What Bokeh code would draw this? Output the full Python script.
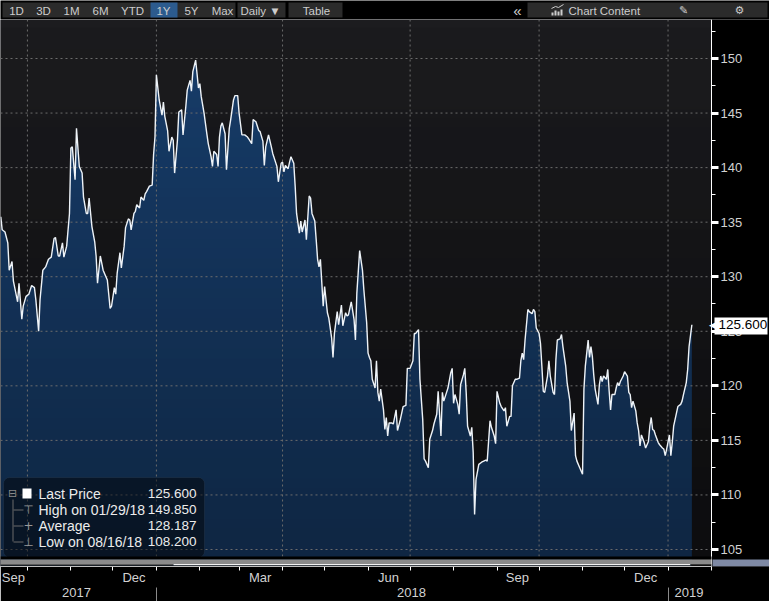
import numpy as np
import pandas as pd
from bokeh.plotting import figure
from bokeh.layouts import column
from bokeh.models import (Range1d, LinearAxis, FixedTicker, CustomJSTickFormatter,
                          BoxAnnotation, Label, ColumnDataSource)
from bokeh.core.properties import value
from bokeh.embed import file_html
from bokeh.resources import INLINE

# ---------------- data ----------------
dates = [
 "2017-09-12","2017-09-13","2017-09-15","2017-09-17","2017-09-18","2017-09-20","2017-09-21","2017-09-24",
 "2017-09-25","2017-09-27","2017-09-28","2017-09-30","2017-10-02","2017-10-04","2017-10-06","2017-10-07",
 "2017-10-09","2017-10-10","2017-10-12","2017-10-14","2017-10-16","2017-10-18","2017-10-20","2017-10-21",
 "2017-10-23","2017-10-24","2017-10-26","2017-10-27","2017-10-29","2017-10-31","2017-11-01","2017-11-02",
 "2017-11-04","2017-11-05","2017-11-07","2017-11-09","2017-11-10","2017-11-12","2017-11-13","2017-11-14",
 "2017-11-16","2017-11-18","2017-11-19","2017-11-20","2017-11-22","2017-11-24","2017-11-26","2017-11-27",
 "2017-11-29","2017-11-30","2017-12-02","2017-12-03","2017-12-04","2017-12-06","2017-12-07","2017-12-09",
 "2017-12-10","2017-12-12","2017-12-13","2017-12-14","2017-12-16","2017-12-17","2017-12-18","2017-12-20",
 "2017-12-21","2017-12-23","2017-12-24","2017-12-25","2017-12-27","2017-12-29","2017-12-30","2017-12-31",
 "2018-01-01","2018-01-03","2018-01-05","2018-01-06","2018-01-07","2018-01-09","2018-01-10","2018-01-12",
 "2018-01-13","2018-01-14","2018-01-16","2018-01-17","2018-01-19","2018-01-20","2018-01-22","2018-01-23",
 "2018-01-25","2018-01-26","2018-01-27","2018-01-29","2018-01-30","2018-01-31","2018-02-01","2018-02-02",
 "2018-02-04","2018-02-06","2018-02-07","2018-02-09","2018-02-10","2018-02-11","2018-02-13","2018-02-14",
 "2018-02-15","2018-02-16","2018-02-17","2018-02-19","2018-02-20","2018-02-22","2018-02-23","2018-02-25",
 "2018-02-26","2018-02-28","2018-03-01","2018-03-03","2018-03-05","2018-03-07","2018-03-08","2018-03-10",
 "2018-03-11","2018-03-13","2018-03-15","2018-03-16","2018-03-18","2018-03-19","2018-03-20","2018-03-22",
 "2018-03-24","2018-03-25","2018-03-27","2018-03-28","2018-03-29","2018-03-31","2018-04-01","2018-04-02",
 "2018-04-03","2018-04-05","2018-04-06","2018-04-07","2018-04-09","2018-04-10","2018-04-11","2018-04-13",
 "2018-04-14","2018-04-15","2018-04-17","2018-04-18","2018-04-20","2018-04-21","2018-04-22","2018-04-24",
 "2018-04-25","2018-04-26","2018-04-27","2018-04-28","2018-04-30","2018-05-01","2018-05-03","2018-05-04",
 "2018-05-06","2018-05-07","2018-05-08","2018-05-10","2018-05-11","2018-05-13","2018-05-14","2018-05-16",
 "2018-05-17","2018-05-18","2018-05-20","2018-05-22","2018-05-23","2018-05-24","2018-05-26","2018-05-28",
 "2018-05-29","2018-05-31","2018-06-01","2018-06-02","2018-06-03","2018-06-04","2018-06-06","2018-06-07",
 "2018-06-08","2018-06-09","2018-06-10","2018-06-12","2018-06-13","2018-06-14","2018-06-15","2018-06-16",
 "2018-06-18","2018-06-19","2018-06-21","2018-06-22","2018-06-24","2018-06-26","2018-06-28","2018-06-29",
 "2018-07-01","2018-07-03","2018-07-04","2018-07-05","2018-07-07","2018-07-08","2018-07-10","2018-07-11",
 "2018-07-12","2018-07-14","2018-07-15","2018-07-17","2018-07-18","2018-07-20","2018-07-21","2018-07-23",
 "2018-07-24","2018-07-25","2018-07-27","2018-07-28","2018-07-30","2018-07-31","2018-08-01","2018-08-02",
 "2018-08-04","2018-08-05","2018-08-06","2018-08-08","2018-08-09","2018-08-10","2018-08-11","2018-08-13",
 "2018-08-14","2018-08-15","2018-08-16","2018-08-17","2018-08-19","2018-08-21","2018-08-24","2018-08-25",
 "2018-08-27","2018-08-28","2018-08-30","2018-08-31","2018-09-01","2018-09-03","2018-09-04","2018-09-06",
 "2018-09-07","2018-09-08","2018-09-10","2018-09-11","2018-09-12","2018-09-14","2018-09-15","2018-09-17",
 "2018-09-18","2018-09-19","2018-09-20","2018-09-21","2018-09-23","2018-09-24","2018-09-26","2018-09-27",
 "2018-09-28","2018-09-29","2018-10-01","2018-10-02","2018-10-03","2018-10-04","2018-10-05","2018-10-07",
 "2018-10-08","2018-10-09","2018-10-11","2018-10-12","2018-10-13","2018-10-14","2018-10-16","2018-10-17",
 "2018-10-18","2018-10-20","2018-10-21","2018-10-23","2018-10-24","2018-10-26","2018-10-27","2018-10-28",
 "2018-10-30","2018-11-01","2018-11-02","2018-11-03","2018-11-05","2018-11-06","2018-11-07","2018-11-08",
 "2018-11-09","2018-11-10","2018-11-12","2018-11-13","2018-11-14","2018-11-15","2018-11-16","2018-11-18",
 "2018-11-19","2018-11-20","2018-11-21","2018-11-22","2018-11-24","2018-11-25","2018-11-26","2018-11-27",
 "2018-11-28","2018-11-30","2018-12-01","2018-12-03","2018-12-04","2018-12-05","2018-12-06","2018-12-07",
 "2018-12-09","2018-12-10","2018-12-11","2018-12-12","2018-12-13","2018-12-15","2018-12-16","2018-12-18",
 "2018-12-19","2018-12-20","2018-12-21","2018-12-22","2018-12-23","2018-12-25","2018-12-26","2018-12-28",
 "2018-12-29","2018-12-30","2018-12-31","2019-01-02","2019-01-03","2019-01-04","2019-01-05","2019-01-07",
 "2019-01-08","2019-01-10","2019-01-11","2019-01-12","2019-01-14","2019-01-15","2019-01-16","2019-01-18",
]
prices = [
 135.5,134.3,134.1,133.1,130.6,131.4,129.6,127.7,
 129.4,126.1,127.3,128.2,128.4,129.2,129.0,127.9,
 125.0,127.9,130.6,130.9,131.6,131.8,133.5,133.6,
 131.9,131.9,133.1,131.8,132.8,135.8,141.8,141.9,
 138.9,143.6,140.1,139.5,137.3,135.8,135.8,137.2,
 134.6,133.2,131.9,129.4,131.9,130.6,130.0,129.7,
 127.1,127.3,129.0,128.4,130.3,132.2,130.8,132.8,
 134.5,135.3,135.2,134.3,135.8,136.0,136.6,136.3,
 137.3,137.0,137.6,137.8,138.3,138.4,141.2,142.8,
 148.5,146.2,144.8,146.0,144.7,143.4,141.5,142.8,
 142.5,139.5,142.5,145.1,145.3,143.0,145.6,147.1,
 148.0,147.0,148.8,149.85,148.6,147.3,147.7,146.5,
 145.0,143.1,142.2,141.0,140.1,141.5,141.2,140.1,
 142.8,143.8,144.1,143.1,139.8,143.6,144.4,146.2,
 146.6,146.6,145.0,143.0,143.0,142.8,142.6,142.2,
 144.4,144.2,143.4,143.3,142.4,140.2,141.9,143.0,
 141.9,141.3,140.5,140.1,138.7,140.4,140.5,139.6,
 140.2,139.9,140.5,141.0,140.4,138.3,135.8,134.0,
 135.1,134.1,135.2,133.4,137.4,137.2,135.8,135.1,
 133.4,131.6,130.9,131.6,127.3,129.1,126.7,126.2,
 124.4,122.6,124.8,126.8,125.6,127.4,125.5,126.7,
 126.4,126.5,127.7,126.1,124.2,128.5,132.4,130.6,
 128.8,125.8,123.0,122.6,122.3,120.6,119.8,122.3,
 119.4,118.6,119.7,117.8,116.0,117.1,115.4,116.6,
 116.6,116.5,117.8,115.9,116.9,118.1,118.2,121.6,
 121.6,122.3,124.8,124.8,125.15,120.6,116.9,113.3,
 113.1,112.5,115.1,115.9,116.5,117.4,119.5,115.4,
 119.4,118.6,119.4,119.8,121.2,121.6,118.4,119.2,
 118.3,117.4,120.1,121.0,121.6,119.4,116.3,115.4,
 116.2,113.9,108.2,111.4,112.8,113.0,113.2,113.1,
 116.8,116.2,115.4,114.7,119.5,118.4,118.1,117.7,
 118.0,116.3,117.2,117.2,120.0,120.6,120.6,120.7,
 122.3,123.0,122.4,124.2,127.0,126.8,126.6,127.0,
 126.8,125.3,124.8,123.9,121.8,119.5,119.4,120.9,
 122.3,120.9,119.4,119.2,122.4,124.2,124.3,124.7,
 123.6,121.8,120.3,118.6,115.9,117.5,113.6,113.1,
 112.5,111.9,119.7,121.8,124.2,122.6,123.6,122.7,
 121.0,119.7,118.3,120.1,120.9,120.4,120.9,120.6,
 121.5,119.5,117.8,119.2,119.2,119.8,120.3,120.0,
 120.4,120.9,121.3,120.9,119.4,119.2,118.0,118.6,
 117.7,116.6,115.9,114.5,115.5,114.8,114.3,114.9,
 116.3,117.1,116.0,115.9,115.5,114.8,114.6,114.3,
 114.2,113.6,114.2,115.5,113.6,114.8,116.3,117.5,
 118.1,118.3,118.6,119.2,120.3,121.5,123.6,125.6,
]

y_ticks = [105, 110, 115, 120, 125, 130, 135, 140, 145, 150]
y_minor_ticks = [102.5, 107.5, 112.5, 117.5, 122.5, 127.5, 132.5, 137.5, 142.5, 147.5, 152.5]
month_label_dates = ["2017-09-21", "2017-12-16", "2018-03-16", "2018-06-15 12:00", "2018-09-15 12:00", "2018-12-16"]
month_labels = ["Sep", "Dec", "Mar", "Jun", "Sep", "Dec"]
month_starts = ["2017-10-01", "2017-11-01", "2017-12-01", "2018-01-01", "2018-02-01", "2018-03-01",
                "2018-04-01", "2018-05-01", "2018-06-01", "2018-07-01", "2018-08-01", "2018-09-01",
                "2018-10-01", "2018-11-01", "2018-12-01", "2019-01-01", "2019-02-01"]
year_label_dates = ["2017-11-05", "2018-07-02", "2019-01-16"]
year_labels = ["2017", "2018", "2019"]
year_starts = ["2018-01-01", "2019-01-01"]
quarter_starts = ["2017-10-01", "2018-01-01", "2018-04-01", "2018-07-01", "2018-10-01", "2019-01-01"]

legend_names = ["Last Price", "High on 01/29/18", "Average", "Low on 08/16/18"]
legend_values = ["125.600", "149.850", "128.187", "108.200"]
last_price = 125.600
last_price_text = "125.600"

toolbar_buttons = ["1D", "3D", "1M", "6M", "YTD", "1Y", "5Y", "Max", "Daily \u25BC", "Table"]
toolbar_right = ["\u00AB", "Chart Content", "\u270E", "\u2699"]

FONT = "Liberation Sans"

# ---------------- geometry helpers (page pixels -> data) ----------------
def ms(s):
    return pd.Timestamp(s).value / 1e6

X0 = ms("2017-09-11 19:00")
X711 = ms("2019-02-01")

def X(px):
    return X0 + px * (X711 - X0) / 711.0

def Y(py):
    return 150.0 - (py - 58.0) / 10.911

Y_TOP, Y_BOT = Y(19), Y(566)
X_END = X(769)

# ---------------- toolbar strip ----------------
tb = figure(width=769, height=19, x_range=Range1d(0, 769), y_range=Range1d(19, 0),
            toolbar_location=None, output_backend="svg", min_border=0,
            x_axis_location=None, y_axis_location=None,
            background_fill_color="black", border_fill_color="black", outline_line_color=None)
tb.grid.visible = False
BTN = "#2b2b2b"
tb.quad(left=[2, 237, 288, 527], right=[235, 285, 342, 767], top=[2, 2, 2, 2], bottom=[17, 17, 17, 17],
        fill_color=BTN, line_color=None)
tb.quad(left=[150], right=[177], top=[2], bottom=[17], fill_color="#2c5b8e", line_color=None)
btn_x = [16, 43, 71, 100, 132, 163, 191, 222, 260, 316]
tb.text(x=btn_x, y=[10] * len(btn_x), text=toolbar_buttons, text_align="center", text_baseline="middle",
        text_font=value(FONT), text_font_size="11.5px", text_color="#cdcdcd")
tb.text(x=[517], y=[9.5], text=[toolbar_right[0]], text_align="center", text_baseline="middle",
        text_font=value(FONT), text_font_size="15px", text_color="#d0d0d0")
tb.text(x=[568], y=[10], text=[toolbar_right[1]], text_align="left", text_baseline="middle",
        text_font=value(FONT), text_font_size="11.5px", text_color="#cdcdcd")
tb.text(x=[683, 739], y=[10, 10], text=toolbar_right[2:], text_align="center", text_baseline="middle",
        text_font=value("DejaVu Sans"), text_font_size="11px", text_color="#cdcdcd")
tb.quad(left=[551, 554, 557, 560], right=[553, 556, 559, 562], top=[12, 10, 11, 9], bottom=[15, 15, 15, 15],
        fill_color="#cdcdcd", line_color=None)
tb.line(x=[551, 555, 558, 563], y=[8, 6, 7, 4], line_color="#cdcdcd", line_width=1)

# ---------------- main chart ----------------
p = figure(width=769, height=582, x_axis_type="datetime", y_axis_location=None,
           x_range=Range1d(X0, X_END), y_range=Range1d(Y_BOT, Y_TOP),
           toolbar_location=None, output_backend="svg",
           min_border_left=0, min_border_right=0, min_border_top=0, min_border_bottom=35,
           background_fill_color="#1c1c1f", border_fill_color="black", outline_line_color=None)
p.grid.visible = False

# background gradient (1px bands)
edges = np.arange(19, 567, 1.0)
t = np.clip((edges[:-1] - 19) / (556 - 19), 0, 1)
c_top = np.array([29, 29, 32]); c_bot = np.array([20, 20, 23])
bg_cols = ["#%02x%02x%02x" % tuple((c_top + (c_bot - c_top) * tt).round().astype(int)) for tt in t]
band_top = [Y(e) for e in edges[:-1]]
band_bot = [Y(e) for e in edges[1:]]
p.quad(left=X0, right=X(711), top=band_top, bottom=band_bot, fill_color=bg_cols, line_color=None)

src = ColumnDataSource(dict(date=pd.to_datetime(dates), price=prices))
p.varea(x="date", y1=Y_BOT - 5, y2="price", source=src, fill_color="#183e6c")

# darkening overlay (vertical gradient)
p.quad(left=X0, right=X(711), top=band_top, bottom=band_bot,
       fill_color="black", fill_alpha=list(0.42 * t), line_color=None)

# dotted grid lines (drawn over the fill)
GRID_COL = "#6c6c6c"
p.segment(x0=X0, x1=X(711), y0=y_ticks, y1=y_ticks, line_color=GRID_COL, line_dash="2 3", line_width=1)
qs = [ms(d) for d in quarter_starts]
p.segment(x0=qs, x1=qs, y0=Y(556), y1=Y_TOP, line_color=GRID_COL, line_dash="2 3", line_width=1)

p.line(x="date", y="price", source=src, line_color="#eef3f8", line_width=1.4)

# black area right of the plot (axis area)
p.quad(left=[X(711)], right=[X_END], top=[Y_TOP + 1], bottom=[Y_BOT - 1], fill_color="black", line_color=None)

# ---- right price axis, pinned at the plot's right edge ----
AX_COL = "#d2d2d2"
ya = LinearAxis(fixed_location=X(711), ticker=FixedTicker(ticks=y_ticks, minor_ticks=y_minor_ticks))
ya.axis_line_color = "white"
ya.major_tick_line_color = "white"
ya.major_tick_out = 7
ya.major_tick_in = 0
ya.major_tick_line_width = 3
ya.minor_tick_line_color = "white"
ya.minor_tick_out = 4
ya.minor_tick_in = 0
ya.major_label_standoff = 2
ya.major_label_text_color = AX_COL
ya.major_label_text_font = FONT
ya.major_label_text_font_size = "13px"
p.add_layout(ya, "right")

# ---- bottom axes: months and years ----
fmt_code = """
let best = 0;
for (let i = 0; i < tks.length; i++) {
  if (Math.abs(tks[i] - tick) < Math.abs(tks[best] - tick)) { best = i; }
}
return labs[best];
"""
mt = [ms(d) for d in month_label_dates]
xa = p.xaxis[0]
xa.ticker = FixedTicker(ticks=mt, minor_ticks=[ms(d) for d in month_starts])
xa.formatter = CustomJSTickFormatter(args=dict(tks=mt, labs=month_labels), code=fmt_code)
xa.bounds = (X0, X(711))
xa.axis_line_color = "white"
xa.major_tick_line_color = None
xa.major_tick_out = 0
xa.major_tick_in = 0
xa.minor_tick_line_color = "white"
xa.minor_tick_out = 4
xa.minor_tick_in = 0
xa.major_label_standoff = -1
xa.major_label_text_color = AX_COL
xa.major_label_text_font = FONT
xa.major_label_text_font_size = "13px"

yl = [ms(d) for d in year_label_dates]
xa2 = LinearAxis(ticker=FixedTicker(ticks=yl, minor_ticks=[ms(d) for d in year_starts]),
                 formatter=CustomJSTickFormatter(args=dict(tks=yl, labs=year_labels), code=fmt_code))
xa2.bounds = (X0, X(711))
xa2.axis_line_color = None
xa2.major_tick_line_color = None
xa2.major_tick_out = 0
xa2.major_tick_in = 0
xa2.minor_tick_line_color = "#8a8a8a"
xa2.minor_tick_out = 16
xa2.minor_tick_in = 0
xa2.major_label_standoff = -16
xa2.major_label_text_color = AX_COL
xa2.major_label_text_font = FONT
xa2.major_label_text_font_size = "13px"
p.add_layout(xa2, "below")

# ---- legend box ----
p.add_layout(BoxAnnotation(left=X(3), right=X(204), top=Y(477), bottom=Y(557),
                           fill_color="black", fill_alpha=0.45, line_color="#34465a", line_width=1,
                           border_radius=6))
row_y = [493, 509, 525, 541]
for i in range(4):
    p.add_layout(Label(x=X(38), y=Y(row_y[i]), text=legend_names[i], text_baseline="middle",
                       text_font=FONT, text_font_size="14px", text_color="#ececec"))
    p.add_layout(Label(x=X(196), y=Y(row_y[i]), text=legend_values[i], text_baseline="middle",
                       text_align="right", text_font=FONT, text_font_size="13.5px", text_color="#ececec"))
p.add_layout(BoxAnnotation(left=X(22), right=X(31), top=Y(488), bottom=Y(498),
                           fill_color="white", fill_alpha=1, line_color=None))
p.add_layout(Label(x=X(12), y=Y(493), text="\u229F", text_baseline="middle", text_align="center",
                   text_font="DejaVu Sans", text_font_size="11px", text_color="#8a8a8a"))
p.add_layout(BoxAnnotation(left=X(12), right=X(13), top=Y(499), bottom=Y(541),
                           fill_color="#6a6a6a", fill_alpha=1, line_color=None))
for i, icon in zip([1, 2, 3], ["\u22A4", "+", "\u22A5"]):
    p.add_layout(BoxAnnotation(left=X(13), right=X(23), top=Y(row_y[i]), bottom=Y(row_y[i] + 1),
                               fill_color="#6a6a6a", fill_alpha=1, line_color=None))
    p.add_layout(Label(x=X(28), y=Y(row_y[i]), text=icon, text_baseline="middle", text_align="center",
                       text_font="DejaVu Sans", text_font_size="12px", text_color="#9a9a9a"))

# ---- navigator strip at the bottom ----
for (l, r, t0, b0, col) in [(0, 711, 556, 559, "#000000"), (0, 711, 559, 563.5, "#8b8b8b"),
                            (0, 173, 563.5, 565, "#5a5a5a"), (173, 690, 563.5, 565, "#f2f2f2"),
                            (690, 711, 563.5, 565, "#3a3a3a"), (0, 711, 565, 566, "#000000"),
                            (712, 769, 559, 566, "#7e89a4")]:
    p.add_layout(BoxAnnotation(left=X(l), right=X(r), top=Y(t0), bottom=Y(b0), fill_color=col,
                               fill_alpha=1, line_color=None))

# ---- last price tag ----
p.add_layout(BoxAnnotation(left=X(714), right=X(767), top=Y(317), bottom=Y(334),
                           fill_color="white", fill_alpha=1, line_color=None))
p.add_layout(Label(x=X(708.5), y=last_price, text="\u25C0", text_baseline="middle", text_align="left",
                   text_font="DejaVu Sans", text_font_size="9px", text_color="white"))
p.add_layout(Label(x=X(718), y=last_price, text=last_price_text, text_baseline="middle",
                   text_font=FONT, text_font_size="13.5px", text_color="black"))

layout = column(tb, p, spacing=0)
open("out.html", "w").write(file_html(layout, INLINE))
